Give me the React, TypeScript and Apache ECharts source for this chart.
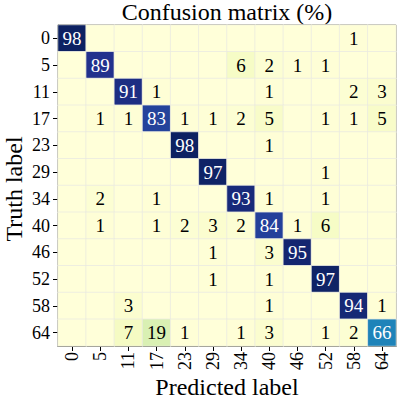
import React, { useEffect, useRef } from "react";
import * as echarts from "echarts";

const labels = ["0", "5", "11", "17", "23", "29", "34", "40", "46", "52", "58", "64"];
const row0 = [98, 0, 0, 0, 0, 0, 0, 0, 0, 0, 1, 0];
const row5 = [0, 89, 0, 0, 0, 0, 6, 2, 1, 1, 0, 0];
const row11 = [0, 0, 91, 1, 0, 0, 0, 1, 0, 0, 2, 3];
const row17 = [0, 1, 1, 83, 1, 1, 2, 5, 0, 1, 1, 5];
const row23 = [0, 0, 0, 0, 98, 0, 0, 1, 0, 0, 0, 0];
const row29 = [0, 0, 0, 0, 0, 97, 0, 0, 0, 1, 0, 0];
const row34 = [0, 2, 0, 1, 0, 0, 93, 1, 0, 1, 0, 0];
const row40 = [0, 1, 0, 1, 2, 3, 2, 84, 1, 6, 0, 0];
const row46 = [0, 0, 0, 0, 0, 1, 0, 3, 95, 0, 0, 0];
const row52 = [0, 0, 0, 0, 0, 1, 0, 1, 0, 97, 0, 0];
const row58 = [0, 0, 3, 0, 0, 0, 0, 1, 0, 0, 94, 1];
const row64 = [0, 0, 7, 19, 1, 0, 1, 3, 0, 1, 2, 66];
const rows = [row0, row5, row11, row17, row23, row29, row34, row40, row46, row52, row58, row64];

const titleText = "Confusion matrix (%)";
const xName = "Predicted label";
const yName = "Truth label";

const ylgnbu = ["#ffffd9", "#edf8b1", "#c7e9b4", "#7fcdbb", "#41b6c4", "#1d91c0", "#225ea8", "#253494", "#081d58"];
const FONT = "Liberation Serif";

export default function App() {
  const ref = useRef<HTMLDivElement>(null);
  useEffect(() => {
    if (!ref.current) return;
    const chart = echarts.init(ref.current, null, { renderer: "svg" });
    const data: any[] = [];
    rows.forEach((row, yi) => {
      row.forEach((v, xi) => {
        data.push({
          value: [xi, yi, v],
          label: { color: v > 50 ? "#ffffff" : "#000000", fontFamily: FONT, fontSize: 19 },
        });
      });
    });
    chart.setOption({
      animation: false,
      backgroundColor: "#ffffff",
      textStyle: { fontFamily: FONT },
      grid: { left: 58, right: 3, top: 25, bottom: 53, show: true, borderColor: "#000", borderWidth: 1, backgroundColor: "transparent" },
      xAxis: {
        type: "category",
        data: labels,
        axisLine: { show: true, lineStyle: { color: "#000", width: 1 } },
        axisTick: { show: true, alignWithLabel: true, length: 5, lineStyle: { color: "#000" } },
        axisLabel: { rotate: 90, margin: 6, fontSize: 18, fontFamily: FONT, color: "#000", interval: 0 },
        splitLine: { show: false },
      },
      yAxis: {
        type: "category",
        data: labels,
        inverse: true,
        axisLine: { show: true, lineStyle: { color: "#000", width: 1 } },
        axisTick: { show: true, alignWithLabel: true, length: 5, lineStyle: { color: "#000" } },
        axisLabel: { margin: 8, fontSize: 18, fontFamily: FONT, color: "#000", interval: 0 },
        splitLine: { show: false },
      },
      visualMap: {
        show: false,
        type: "continuous",
        min: 0,
        max: 100,
        dimension: 2,
        inRange: { color: ylgnbu },
      },
      series: [
        {
          type: "heatmap",
          data,
          itemStyle: { borderColor: "rgba(235,235,225,0.8)", borderWidth: 1 },
          label: {
            show: true,
            fontSize: 19,
            fontFamily: FONT,
            formatter: (p: any) => (p.value[2] === 0 ? "" : String(p.value[2])),
          },
          emphasis: { disabled: true },
        },
      ],
      graphic: [
        {
          type: "text",
          x: 227,
          y: 0,
          style: { text: titleText, fontSize: 24, fontFamily: FONT, fill: "#000", textAlign: "center" },
        },
        {
          type: "text",
          x: 227,
          y: 375,
          style: { text: xName, fontSize: 24, fontFamily: FONT, fill: "#000", textAlign: "center" },
        },
        {
          type: "text",
          x: 2,
          y: 189,
          rotation: Math.PI / 2,
          style: { text: yName, fontSize: 24, fontFamily: FONT, fill: "#000", textAlign: "center" },
        },
      ],
    });
    return () => chart.dispose();
  }, []);
  return <div ref={ref} style={{ position: "fixed", left: 0, top: 0, width: 399, height: 399 }} />;
}
